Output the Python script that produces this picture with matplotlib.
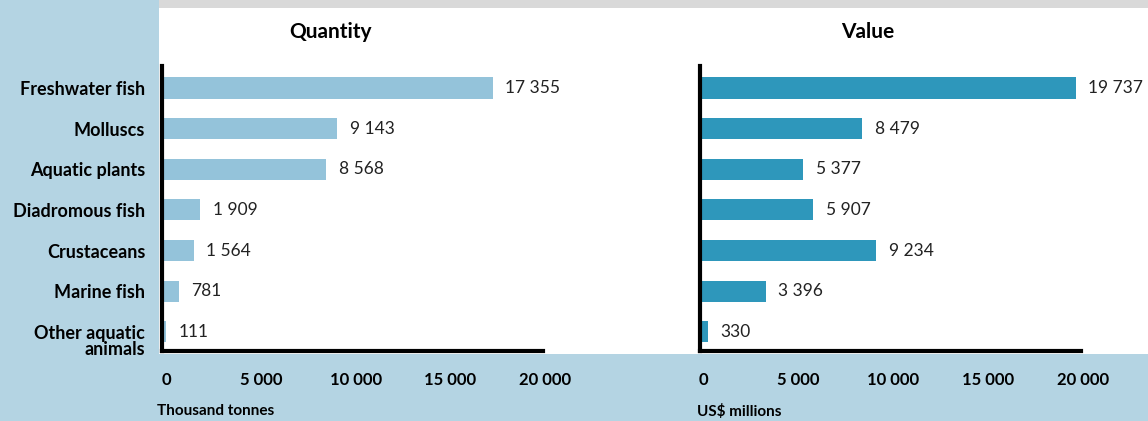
import matplotlib
matplotlib.use("Agg")
import matplotlib.pyplot as plt
from matplotlib.patches import Rectangle
import matplotlib.transforms as mtransforms

categories = ["Freshwater fish", "Molluscs", "Aquatic plants", "Diadromous fish",
              "Crustaceans", "Marine fish", "Other aquatic\nanimals"]
quantity = [17355, 9143, 8568, 1909, 1564, 781, 111]
value = [19737, 8479, 5377, 5907, 9234, 3396, 330]
ticks = [0, 5000, 10000, 15000, 20000]
tick_labels = ["0", "5 000", "10 000", "15 000", "20 000"]

BG = "#b4d4e3"
LIGHT = "#94c3da"
DARK = "#2e97bb"
GREY = "#d9d9d9"
FONT = "Lato"

W, H = 1148, 421
fig = plt.figure(figsize=(W / 100, H / 100), dpi=100)
fig.patch.set_facecolor("white")


def px(x0, y0, w, h):
    """Pixel box (top-left origin) to figure fraction."""
    return [x0 / W, 1 - (y0 + h) / H, w / W, h / H]


# background panels
for (x0, y0, w, h, c) in [(0, 0, 159, H, BG), (0, 354, W, H - 354, BG), (159, 0, W - 159, 8, GREY)]:
    fig.add_artist(Rectangle((x0 / W, 1 - (y0 + h) / H), w / W, h / H,
                             transform=fig.transFigure, facecolor=c, edgecolor="none", zorder=0))


def fmt(v):
    return f"{v:,}".replace(",", " ")


def panel(left, data, color, title, unit, unit_x, show_cats):
    ax = fig.add_axes(px(left, 66, 381, 285))
    ax.set_facecolor("none")
    y = list(range(len(data)))
    ax.barh(y, data, height=0.52, color=color, zorder=1)
    ax.set_ylim(6.47, -0.54)
    # zero sits just right of the thick axis line
    ax.set_xlim(-105, 20000)
    for s in ("top", "right"):
        ax.spines[s].set_visible(False)
    for s in ("left", "bottom"):
        ax.spines[s].set_linewidth(3.0)
        ax.spines[s].set_color("black")
        ax.spines[s].set_zorder(3)
    for yi, v in zip(y, data):
        ax.annotate(fmt(v), (v, yi), xytext=(9, 0), textcoords="offset points",
                    va="center", ha="left", fontsize=12.5, family=FONT, color="#222222")
    ax.set_xticks(ticks)
    ax.set_xticklabels(tick_labels, fontsize=12, fontweight="bold", family=FONT)
    ax.tick_params(axis="x", length=0, pad=15)
    offset = mtransforms.ScaledTranslation(1.5 / 72, 0, fig.dpi_scale_trans)
    for lab in ax.get_xticklabels():
        lab.set_transform(lab.get_transform() + offset)
    if show_cats:
        ax.set_yticks(y)
        ax.set_yticklabels(categories, fontsize=13, fontweight="bold", family=FONT,
                           linespacing=0.92)
        ax.tick_params(axis="y", length=0, pad=12)
        last = ax.get_yticklabels()[-1]
        last.set_transform(last.get_transform() +
                           mtransforms.ScaledTranslation(0, -6 / 72, fig.dpi_scale_trans))
    else:
        ax.set_yticks([])
    fig.text((left + 168) / W, 1 - 32 / H, title, ha="center", va="center",
             fontsize=15, fontweight="bold", family=FONT)
    fig.text(unit_x / W, 1 - 411 / H, unit, ha="left", va="center",
             fontsize=11, fontweight="bold", family=FONT)
    return ax


panel(162, quantity, LIGHT, "Quantity", "Thousand tonnes", 157, True)
panel(699.5, value, DARK, "Value", "US$ millions", 697, False)

fig.savefig("out.png", dpi=100)
